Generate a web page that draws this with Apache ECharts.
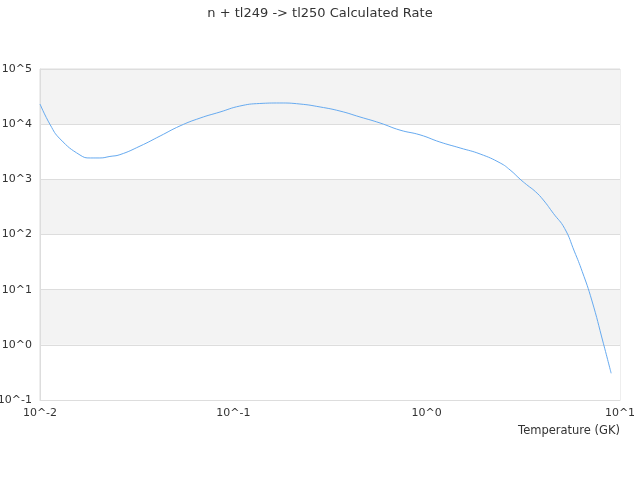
<!DOCTYPE html>
<html><head><meta charset="utf-8">
<script src="https://cdn.jsdelivr.net/npm/echarts@6/dist/echarts.min.js"></script>
<style>html,body{margin:0;padding:0;background:#fff}#c{width:640px;height:480px}</style>
</head><body><div id="c"></div>
<script>
const temperatures = [0.01, 0.0113, 0.0127, 0.0161, 0.0182, 0.0204, 0.023, 0.0259, 0.0329, 0.0418, 0.053, 0.0673, 0.0853, 0.108, 0.137, 0.174, 0.221, 0.281, 0.356, 0.452, 0.574, 0.728, 0.924, 1.17, 1.49, 1.89, 2.4, 2.7, 3.04, 3.29, 3.65, 4.01, 4.52, 5.17, 5.8, 6.38, 7.14, 8.2, 9.0];
const rates = [23200, 9700, 5400, 2760, 2440, 2440, 2600, 2800, 4000, 6100, 9300, 12900, 16600, 21300, 23700, 24200, 23200, 20500, 17300, 13500, 10500, 7800, 6400, 4750, 3700, 2880, 1980, 1480, 1010, 800, 600, 423, 242, 129, 50, 21.2, 6.5, 1.07, 0.305];
const titleText = 'n + tl249 -> tl250 Calculated Rate';
const xName = 'Temperature (GK)';

const chart = echarts.init(document.getElementById('c'));
const fmt = v => '10^' + Math.round(Math.log10(v));
const font = 'DejaVu Sans';
chart.setOption({
  animation: false,
  textStyle: { fontFamily: font },
  title: { text: titleText, left: 'center', top: 2, textStyle: { fontSize: 13, fontWeight: 'normal', color: '#333', fontFamily: font } },
  grid: { left: 40, right: 20, top: 69, bottom: 80, containLabel: false, outerBoundsMode: 'none', show: true, borderColor: '#ddd', borderWidth: 1, backgroundColor: 'transparent' },
  xAxis: {
    type: 'log', logBase: 10, min: 0.01, max: 10,
    name: xName, nameLocation: 'end', nameGap: 0,
    nameTextStyle: { align: 'right', verticalAlign: 'top', padding: [25, 0, 0, 0], color: '#333', fontSize: 11.5, fontFamily: font },
    axisLine: { lineStyle: { color: '#ddd' } },
    axisTick: { show: false },
    axisLabel: { formatter: fmt, color: '#333', fontSize: 11, fontFamily: font },
    splitLine: { show: false }
  },
  yAxis: {
    type: 'log', logBase: 10, min: 0.1, max: 100000,
    axisLine: { show: true, lineStyle: { color: '#ddd' } },
    axisTick: { show: false },
    axisLabel: { formatter: fmt, color: '#333', fontSize: 11, fontFamily: font },
    splitLine: { show: true, lineStyle: { color: '#ddd' } },
    splitArea: { show: true, areaStyle: { color: ['#ffffff', '#f3f3f3'] } }
  },
  series: [{
    type: 'line', showSymbol: false, smooth: true,
    data: temperatures.map((t, i) => [t, rates[i]]),
    lineStyle: { color: '#66aaf0', width: 1 }
  }]
});
</script></body></html>
